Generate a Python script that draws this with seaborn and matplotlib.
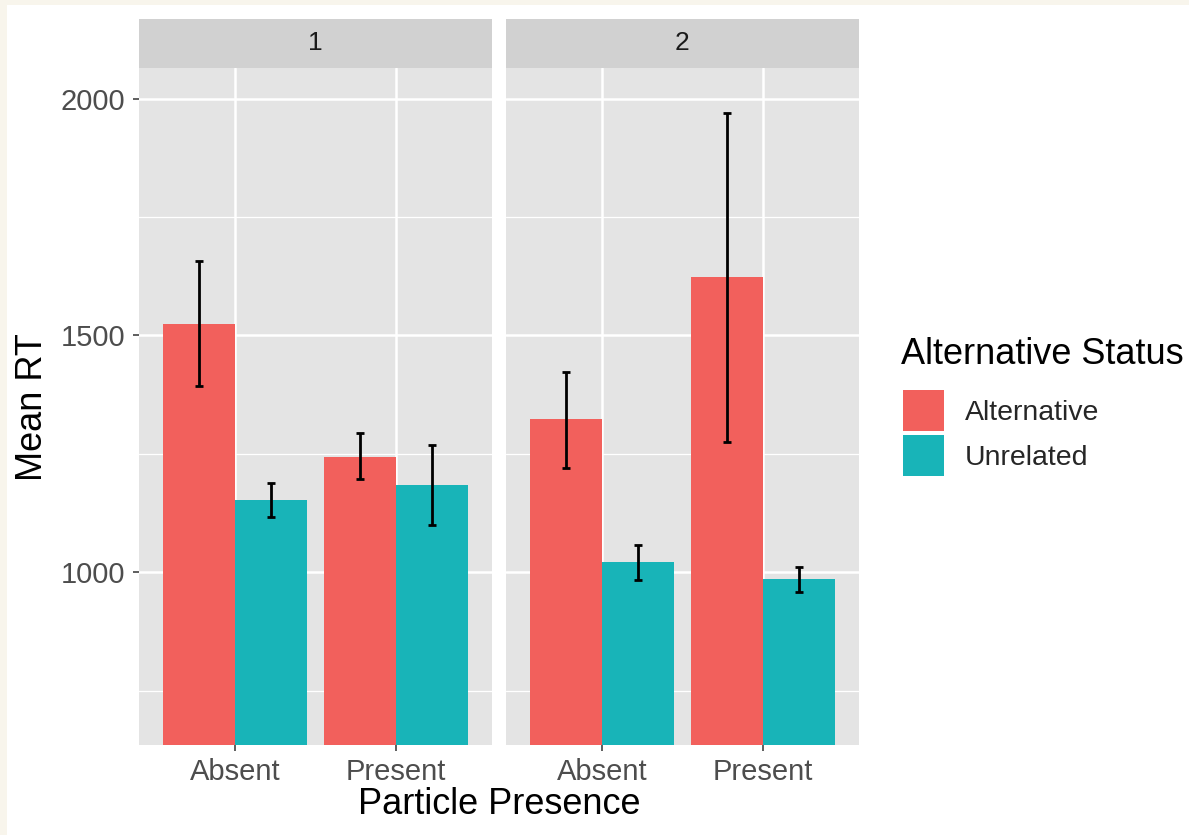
import matplotlib
matplotlib.use("Agg")
import matplotlib.pyplot as plt
import matplotlib.patches as mpatches
import seaborn as sns
import pandas as pd
import numpy as np

# ---- data ----
panels = ["1", "2"]
presence = ["Absent", "Present"]
status = ["Alternative", "Unrelated"]
# means per panel, [Absent-Alt, Absent-Unrel, Present-Alt, Present-Unrel]
mean_p1 = [1525, 1152, 1244, 1184]
low_p1 = [1394, 1117, 1197, 1100]
high_p1 = [1657, 1189, 1293, 1268]
mean_p2 = [1323, 1021, 1623, 986]
low_p2 = [1220, 983, 1276, 959]
high_p2 = [1423, 1058, 1970, 1012]
y_ticks = [1000, 1500, 2000]
y_minor = [750, 1250, 1750]

rows = []
for pan, m, lo, hi in [("1", mean_p1, low_p1, high_p1), ("2", mean_p2, low_p2, high_p2)]:
    k = 0
    for pr in presence:
        for st in status:
            rows.append(dict(panel=pan, presence=pr, status=st, rt=m[k], lo=lo[k], hi=hi[k]))
            k += 1
df = pd.DataFrame(rows)

colors = {"Alternative": "#F2605C", "Unrelated": "#18B4B8"}
panel_bg = "#E4E4E4"
strip_bg = "#D1D1D1"

sns.set_theme(style="white")
plt.rcParams["font.family"] = ["Liberation Sans", "DejaVu Sans"]

W, H = 1189, 835
fig = plt.figure(figsize=(W / 100, H / 100), dpi=100)
fig.patch.set_facecolor("#F8F5EC")
fig.patches.append(mpatches.Rectangle((7 / W, 0), 1, 1 - 5 / H, transform=fig.transFigure,
                                      facecolor="white", edgecolor="none", zorder=-10))

def fr(x0, y0, x1, y1):
    return [x0 / W, 1 - y1 / H, (x1 - x0) / W, (y1 - y0) / H]

panel_px = [(139, 492), (506, 859)]
ylim = (635, 2065)

for i, pan in enumerate(panels):
    x0, x1 = panel_px[i]
    ax = fig.add_axes(fr(x0, 68, x1, 745))
    ax.set_facecolor(panel_bg)
    sub = df[df.panel == pan]
    sns.barplot(data=sub, x="presence", y="rt", hue="status", order=presence,
                hue_order=status, palette=colors, width=0.9, errorbar=None,
                saturation=1, legend=False, ax=ax, zorder=3, linewidth=0, edgecolor="none")
    for j, st in enumerate(status):
        cont = ax.containers[j]
        for bar, pr in zip(cont, presence):
            r = sub[(sub.presence == pr) & (sub.status == st)].iloc[0]
            xc = bar.get_x() + bar.get_width() / 2
            ax.errorbar([xc], [r.rt], yerr=[[r.rt - r.lo], [r.hi - r.rt]], fmt="none",
                        ecolor="black", elinewidth=2.0, capsize=3.2, capthick=2.0, zorder=5)
    ax.set_xlim(-0.6, 1.6)
    ax.set_ylim(*ylim)
    ax.set_yticks(y_ticks)
    ax.set_yticks(y_minor, minor=True)
    ax.grid(True, which="major", color="white", linewidth=1.8, zorder=0)
    ax.grid(True, which="minor", axis="y", color="white", linewidth=0.9, zorder=0)
    ax.set_axisbelow(True)
    for s in ax.spines.values():
        s.set_visible(False)
    ax.tick_params(axis="both", which="major", length=4, width=1.1, color="#333333",
                   labelsize=21, labelcolor="#4D4D4D", pad=5, bottom=True, left=(i == 0))
    ax.tick_params(axis="y", which="major", pad=6)
    ax.tick_params(axis="both", which="minor", length=0)
    if i > 0:
        ax.set_yticklabels([])
    ax.set_xlabel("")
    ax.set_ylabel("")

    sax = fig.add_axes(fr(x0, 19, x1, 68))
    sax.set_facecolor(strip_bg)
    sax.set_xticks([]); sax.set_yticks([])
    for s in sax.spines.values():
        s.set_visible(False)
    sax.text(0.5, 0.5, pan, ha="center", va="center", fontsize=19, color="#1A1A1A",
             transform=sax.transAxes)

fig.text(499 / W, 1 - 804 / H, "Particle Presence", ha="center", va="center", fontsize=26, color="black")
fig.text(33 / W, 1 - 407 / H, "Mean RT", ha="center", va="center", rotation=90, fontsize=26, color="black")

fig.text(901 / W, 1 - 355 / H, "Alternative Status", ha="left", va="center", fontsize=26, color="black")
handles = [mpatches.Patch(facecolor=colors[s], edgecolor="none", label=s) for s in status]
leg = fig.legend(handles=handles, loc="upper left",
                 bbox_to_anchor=(903 / W, 1 - 390 / H), frameon=False, fontsize=20.5,
                 handlelength=1.44, handleheight=1.84,
                 handletextpad=0.72, labelspacing=0.14, borderpad=0, borderaxespad=0)

fig.savefig("out.png", dpi=100, facecolor=fig.get_facecolor())
